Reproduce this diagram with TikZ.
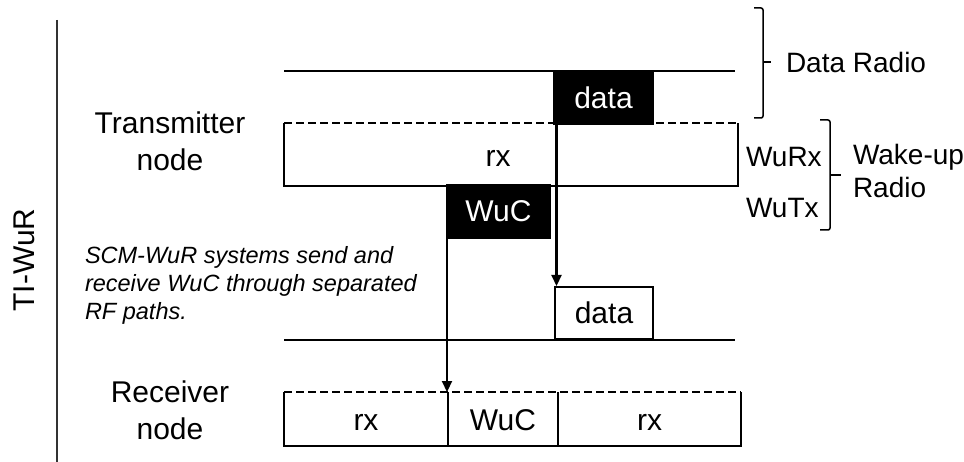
\documentclass[tikz,border=0pt]{standalone}
\usepackage{fontspec}
\setmainfont{Liberation Sans}
\usetikzlibrary{arrows.meta}

\begin{document}
\begin{tikzpicture}[x=1pt,y=-1pt,line width=2pt,
  lbl/.style={font=\fontsize{30}{37}\selectfont},
  sidelbl/.style={font=\fontsize{28}{33}\selectfont,inner sep=0pt,anchor=west},
  blackbox/.style={lbl,fill=black,draw=black,text=white,inner sep=0pt,anchor=north west},
  cell/.style={inner sep=0pt,anchor=north west,minimum height=52pt,text height=22pt,text depth=0pt},
  dashtop/.style={dash pattern=on 8pt off 4pt},
  >={Triangle[length=11pt,width=10pt]}]
\useasboundingbox (0,0) rectangle (964,462);

% left axis
\draw[black!80] (57,20) -- (57,462);
\node[lbl,rotate=90] (tiwur) at (24,260) {TI-WuR};

\node[lbl,align=center] (txname) at (170,141) {Transmitter\\node};
\node[lbl,align=center] (rxname) at (170,410) {Receiver\\node};
\node[font=\fontsize{23.5}{28}\selectfont\itshape,align=left,anchor=west,inner sep=0pt] (note)
  at (84,285) {SCM-WuR systems send and\\receive WuC through separated\\RF paths.};

% transmitter
\draw (284,71) -- (735,71);
\node[cell,minimum width=452pt,minimum height=61pt] (wurx) at (284,123) {};
\draw (wurx.north west) -- (wurx.south west) -- (wurx.south east) -- (wurx.north east);
\draw[dashtop] (wurx.north west) -- (wurx.north east);
\node[lbl] (rxlbl) at (498,158) {rx};
\node[blackbox,minimum width=99pt,minimum height=52pt] (txdata) at (553,71) {data};
\node[blackbox,minimum width=103pt,minimum height=53pt] (txwuc) at (446,184) {WuC};

% receiver
\draw (284,340) -- (735,340);
\node[cell,draw,lbl,minimum width=98pt,anchor=south west] (rxdata) at (554,340) {data};
\node[cell,lbl,minimum width=162pt] (rxa) at (284,392) {rx};
\node[cell,lbl,minimum width=108pt] (rxwuc) at (rxa.north east) {WuC};
\node[cell,lbl,minimum width=181pt] (rxb) at (rxwuc.north east) {rx};
\draw (rxa.north west) -- (rxa.south west) -- (rxb.south east) -- (rxb.north east);
\draw[dashtop] (rxa.north west) -- (rxb.north east);
\foreach \c in {rxa,rxwuc}
  \draw (\c.north east) -- (\c.south east);

% paths
\draw[->,line width=2.2pt] ([xshift=3.5pt]txdata.south west) -- ([xshift=3.5pt]txdata.south west |- rxdata.north);
\draw[->,line width=2.2pt] ([xshift=1pt]txwuc.south west) -- ([xshift=1pt]txwuc.south west |- rxwuc.north);

% brackets
\draw[line width=1.5pt,rounded corners=2pt] (754,8) -- (763,8) -- (763,118) -- (754,118);
\draw[line width=1.5pt] (763,62) -- (771,62);
\node[sidelbl] (dradio) at (785,62) {Data Radio};
\draw[line width=1.5pt,rounded corners=2pt] (820,120) -- (830,120) -- (830,230) -- (820,230);
\draw[line width=1.5pt] (830,175) -- (841,175);
\node[sidelbl] (wurxlbl) at (745,157) {WuRx};
\node[sidelbl] (wutxlbl) at (745,208) {WuTx};
\node[sidelbl,align=left] (wradio) at (852,171) {Wake-up\\Radio};
\end{tikzpicture}
\end{document}
